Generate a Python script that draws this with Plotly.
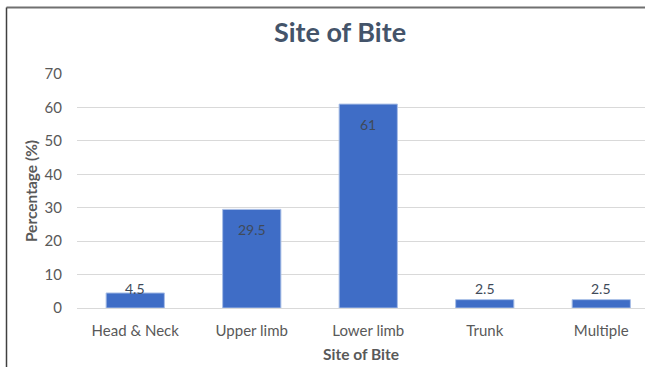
import plotly.graph_objects as go

categories = ["Head & Neck", "Upper limb", "Lower limb", "Trunk", "Multiple"]
values = [4.5, 29.5, 61, 2.5, 2.5]
y_ticks = [0, 10, 20, 30, 40, 50, 60, 70]

FONT = "Lato"
W, H = 645, 367
ML, MR, MT, MB = 77, 0, 74, 59
plot_w = W - ML - MR
plot_h = H - MT - MB

fig = go.Figure()
fig.add_trace(go.Bar(
    x=list(range(len(categories))),
    y=values,
    marker=dict(color="#3F6DC6", line=dict(color="#A9BFE6", width=1)),
    width=0.5,
    hoverinfo="skip",
))

# data labels (inside end, pushed up for tiny bars)
for i, v in enumerate(values):
    fig.add_annotation(
        x=i, y=max(v - 6, 5.7), text=str(v), showarrow=False,
        yanchor="middle", xanchor="center",
        font=dict(family=FONT, size=14, color="#404A59"),
    )

# outer frame lines (top and left)
fig.add_shape(type="line", xref="paper", yref="paper",
              x0=(6.5 - ML) / plot_w, x1=(W - ML) / plot_w,
              y0=(H - 7.5 - MB) / plot_h, y1=(H - 7.5 - MB) / plot_h,
              line=dict(color="#707070", width=2))
fig.add_shape(type="line", xref="paper", yref="paper",
              x0=(6.5 - ML) / plot_w, x1=(6.5 - ML) / plot_w,
              y0=(0 - MB) / plot_h, y1=(H - 7.5 - MB) / plot_h,
              line=dict(color="#404040", width=1.5))

fig.update_layout(
    width=W, height=H,
    margin=dict(l=ML, r=MR, t=MT, b=MB, pad=0),
    paper_bgcolor="white", plot_bgcolor="white",
    showlegend=False,
    title=dict(text="<b>Site of Bite</b>", x=340 / W, xanchor="center",
               y=1 - 33 / H, yanchor="middle",
               font=dict(family=FONT, size=27, color="#44546A")),
    xaxis=dict(
        tickmode="array", tickvals=list(range(len(categories))), ticktext=categories,
        range=[-0.5, -0.5 + plot_w / 116.5],
        showgrid=False, zeroline=False, showline=False, ticks="",
        tickfont=dict(family=FONT, size=15, color="#595959"),
        ticklabelstandoff=12,
        title=dict(text="<b>Site of Bite</b>", standoff=11,
                   font=dict(family=FONT, size=15.5, color="#595959")),
    ),
    yaxis=dict(
        range=[0, 70], tickvals=y_ticks,
        showgrid=True, gridcolor="#D9D9D9", gridwidth=1,
        zeroline=True, zerolinecolor="#D9D9D9", zerolinewidth=1,
        showline=False, ticks="",
        tickfont=dict(family=FONT, size=15, color="#595959"),
        ticklabelstandoff=14,
        title=dict(text="<b>Percentage (%)</b>", standoff=3,
                   font=dict(family=FONT, size=15.5, color="#595959")),
    ),
)

fig.write_html("out.html")
